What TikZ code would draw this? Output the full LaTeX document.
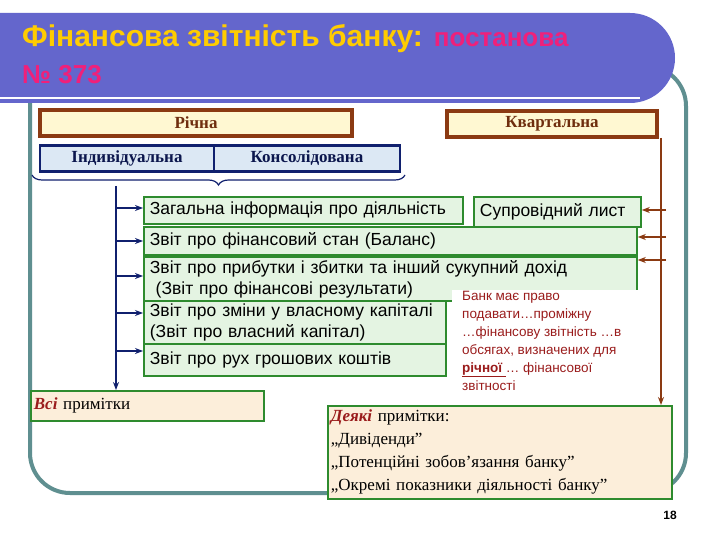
\documentclass[tikz,border=0pt]{standalone}
\usepackage{fontspec}
\setmainfont{Liberation Serif}
\setsansfont{Liberation Sans}
\usetikzlibrary{decorations.pathreplacing,arrows.meta}
\definecolor{ban}{HTML}{6466CC}
\definecolor{ttl}{HTML}{FFCC00}
\definecolor{pnk}{HTML}{F0207A}
\definecolor{frm}{HTML}{5F8F90}
\definecolor{brn}{HTML}{8B3A12}
\definecolor{ylw}{HTML}{FFF8D2}
\definecolor{nvy}{HTML}{10206E}
\definecolor{lbl}{HTML}{DCE8F4}
\definecolor{grn}{HTML}{2E8B2E}
\definecolor{lgr}{HTML}{E4F4E2}
\definecolor{crm}{HTML}{FCEEDA}
\definecolor{drd}{HTML}{9A1C1C}
\tikzset{
  ybox/.style={draw=brn,line width=3.5pt,fill=ylw,font=\fontsize{17}{19}\selectfont\bfseries,text=brn!80!black},
  bbox/.style={draw=nvy,line width=2.5pt,fill=lbl,font=\fontsize{17}{19}\selectfont\bfseries,text=nvy!70!black},
  gbox/.style={draw=grn,line width=1.8pt,fill=lgr,font=\sffamily\fontsize{17.5}{21}\selectfont,anchor=north west,align=left,inner xsep=6pt,inner ysep=1pt},
  cbox/.style={draw=grn,line width=1.8pt,fill=crm,anchor=north west,align=left,inner xsep=3pt,inner ysep=2pt},
  narr/.style={draw=nvy,line width=1.4pt,-{Stealth[length=8pt,width=6pt]}},
  barr/.style={draw=brn,line width=1.4pt,-{Stealth[length=8pt,width=6pt]}}
}
\begin{document}
\begin{tikzpicture}[x=1pt,y=-1pt]
\useasboundingbox (0,0) rectangle (720,540);
\fill[white] (0,0) rectangle (720,540);
% frame
\draw[frm,line width=4pt,rounded corners=40pt] (30,66) rectangle (686,493);
% banner
\fill[ban,rounded corners=45pt] (-60,13) rectangle (675,103);
\draw[white,line width=2pt] (0,98) -- (640,98);
\node[anchor=base west,inner sep=0,font=\sffamily\bfseries\fontsize{30}{34}\selectfont,text=ttl] (t1) at (22,47) {Фінансова звітність банку: \textcolor{pnk}{\fontsize{26}{30}\selectfont постанова}};
\node[anchor=base west,inner sep=0,font=\sffamily\bfseries\fontsize{26}{30}\selectfont,text=pnk] (t2) at (22,84) {№ 373};
% top boxes
\node[ybox,minimum width=312pt,minimum height=26pt] (ric) at (196,123) {Річна};
\node[ybox,minimum width=210pt,minimum height=26pt] (kv) at (552,124) {Квартальна};
\node[bbox,minimum width=174pt,minimum height=26pt] (ind) at (127,158.5) {Індивідуальна};
\node[bbox,minimum width=186pt,minimum height=26pt] (kon) at (307,158.5) {Консолідована};
\draw[nvy,line width=1.2pt,decorate,decoration={brace,mirror,amplitude=10pt}] (32,175) -- coordinate[midway] (br) (405,175);
% green boxes
\node[gbox,text width=307pt,minimum height=27pt] (g1) at (143,196) {Загальна інформація про діяльність};
\node[gbox,text width=155pt,minimum height=30pt] (sl) at (473,196) {Супровідний лист};
\node[gbox,text width=481pt,minimum height=28pt] (g2) at (143,226) {Звіт про фінансовий стан (Баланс)};
\node[gbox,text width=481pt,minimum height=44pt] (g3) at (143,256) {Звіт про прибутки і збитки та інший сукупний дохід\\\ (Звіт про фінансові результати)};
\node[gbox,text width=290pt,minimum height=43pt] (g4) at (143,300) {Звіт про зміни у власному капіталі\\(Звіт про власний капітал)};
\node[gbox,text width=290pt,minimum height=32pt] (g5) at (143,343) {Звіт про рух грошових коштів};
% note text
\fill[white] (452,290) rectangle (646,398);
\node[anchor=north west,align=left,inner sep=0,text=drd,font=\sffamily\fontsize{13.5}{18}\selectfont] (note) at (462,291) {Банк має право\\подавати…проміжну\\…фінансову звітність …в\\обсягах, визначених для\\\textbf{\underline{річної }}… фінансової\\звітності};
% bottom boxes
\node[cbox,text width=227pt,minimum height=30pt,font=\fontsize{17}{19}\selectfont] (vsi) at (30,390) {\textcolor{drd}{\textbf{\textit{Всі}}} примітки};
\node[cbox,text width=338pt,minimum height=93pt,font=\fontsize{17}{23}\selectfont] (dey) at (327,405) {\textcolor{drd}{\textbf{\textit{Деякі}}} примітки:\\„Дивіденди”\\„Потенційні зобов’язання банку”\\„Окремі показники діяльності банку”};
% navy tree
\coordinate (vt) at (116,186);
\coordinate (vb) at (116,390);
\draw[nvy,line width=1.4pt] (vt) -- (116,382);
\draw[narr] (116,370) -- (vsi.north -| vb);
\foreach \b/\y in {g1/208,g2/241,g3/276,g4/313,g5/351}{
  \coordinate (s\b) at (116,\y);
  \draw[narr] (s\b) -- (\b.west |- s\b);
}
% brown tree
\coordinate (kt) at (661,138);
\draw[brn,line width=1.4pt] (kt) -- (661,398);
\coordinate (kb) at (661,380);
\draw[barr] (kb) -- (dey.north -| kb);
\foreach \b/\y in {sl/210,g2/237,g3/260}{
  \coordinate (k\b) at (666,\y);
  \draw[barr] (k\b) -- (\b.east |- k\b);
}
\node[font=\sffamily\bfseries\fontsize{12}{14}\selectfont] (pg) at (670,515) {18};
\end{tikzpicture}
\end{document}
